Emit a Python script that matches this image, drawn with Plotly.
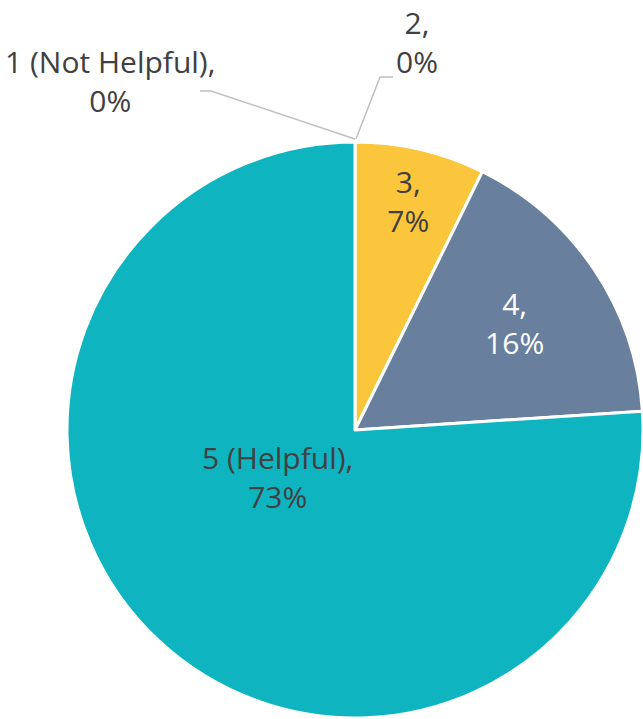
import plotly.graph_objects as go

categories = ["1 (Not Helpful)", "2", "3", "4", "5 (Helpful)"]
values = [0, 0, 7, 16, 73]
colors = ["#4472C4", "#ED7D31", "#FBC63B", "#68809E", "#0EB4C0"]
text_colors = ["#404040", "#404040", "#404040", "#FFFFFF", "#404040"]

W, H = 643, 719
FONT = "Open Sans"
FS = 30

# pie domain in pixels
cx, top, r = 355, 142, 288
dom_x = [(cx - r) / W, (cx + r) / W]
dom_y = [(H - (top + 2 * r)) / H, (H - top) / H]

# labels placed by plotly inside slices 3 and 4; others are annotations
inside_idx = [2, 3]
templates = ["%{label},<br>%{value}%" if i in inside_idx else "" for i in range(len(values))]

fig = go.Figure(go.Pie(
    labels=categories,
    values=values,
    sort=False,
    direction="clockwise",
    rotation=0,
    marker=dict(colors=colors, line=dict(color="#FFFFFF", width=3)),
    texttemplate=templates,
    textposition="inside",
    insidetextorientation="horizontal",
    insidetextfont=dict(family=FONT, size=FS, color=text_colors),
    hoverinfo="label+value",
    domain=dict(x=dom_x, y=dom_y),
    showlegend=False,
))

def px(x, y):
    return x / W, 1 - y / H

# leader lines for zero-value slices
for pts in ([(200, 91), (211, 91), (cx, top - 3)], [(393, 77), (380, 77), (cx + 1, top - 3)]):
    path = ""
    for i, (x, y) in enumerate(pts):
        X, Y = px(x, y)
        path += ("M" if i == 0 else "L") + f"{X},{Y} "
    fig.add_shape(type="path", path=path, xref="paper", yref="paper",
                  line=dict(color="#BFBFBF", width=1.5))

label_pos = {0: (110, 81), 1: (417, 42), 4: (277, 477)}
for i, (x, y) in label_pos.items():
    X, Y = px(x, y)
    fig.add_annotation(x=X, y=Y, xref="paper", yref="paper", showarrow=False,
                       xanchor="center", yanchor="middle",
                       text=f"{categories[i]},<br>{values[i]}%", align="center",
                       font=dict(family=FONT, size=FS, color=text_colors[i]))

fig.update_layout(
    width=W, height=H,
    margin=dict(l=0, r=0, t=0, b=0),
    paper_bgcolor="#FFFFFF",
    plot_bgcolor="#FFFFFF",
)

fig.write_html("out.html", config={"displayModeBar": False},
               post_script="document.body.style.margin='0';")
